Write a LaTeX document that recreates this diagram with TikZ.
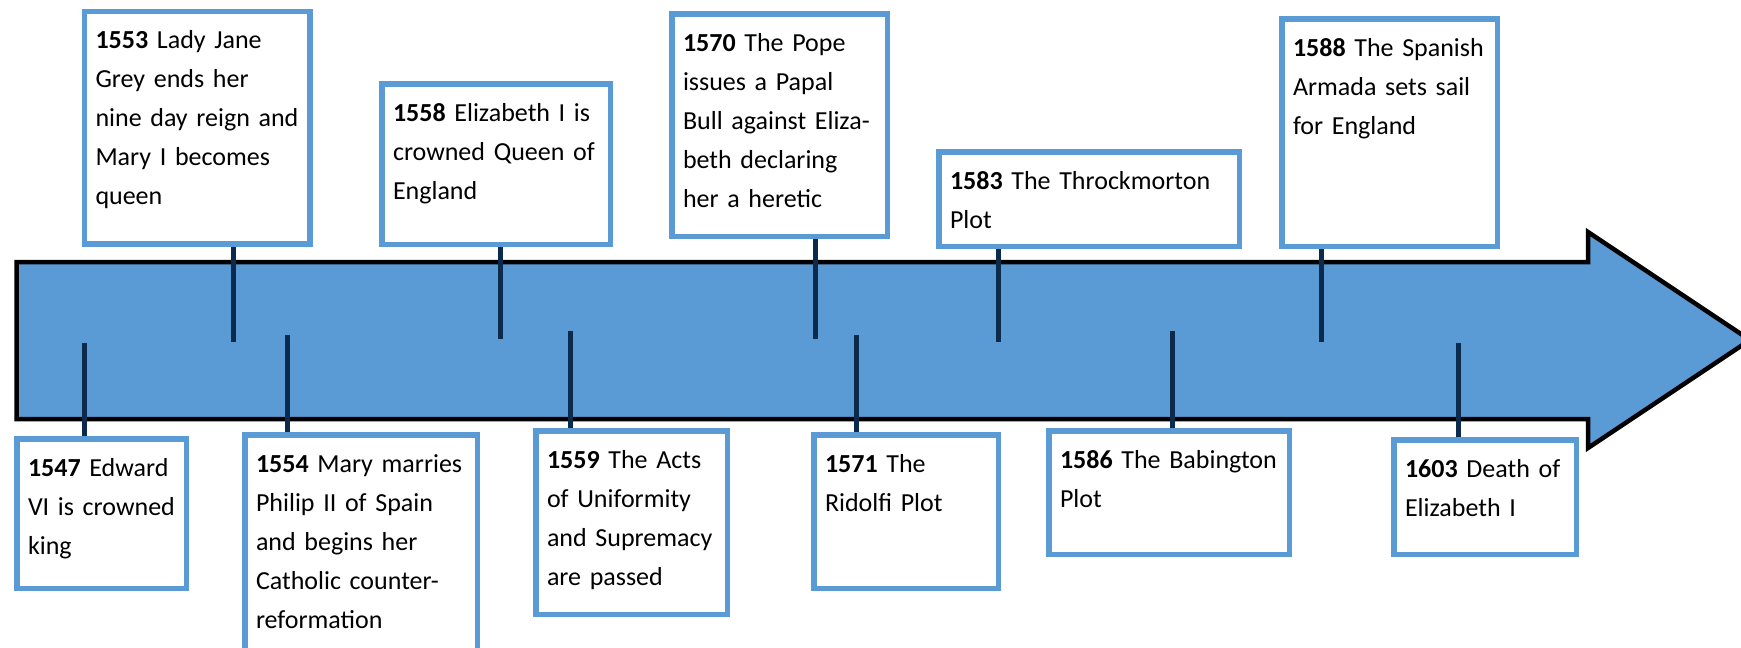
\documentclass[tikz,border=0pt]{standalone}
\usepackage{fontspec}
\setmainfont{Carlito}
\usepackage{tikz}
\usetikzlibrary{positioning}

\definecolor{boxblue}{HTML}{5B9BD5}
\definecolor{tickblue}{HTML}{0B2A4C}

\begin{document}
\begin{tikzpicture}[
  x=1pt, y=-1pt,
  evbox/.style={draw=boxblue,line width=5.5pt,fill=white,anchor=north west,align=left,
    inner xsep=11.25pt,inner ysep=11.25pt,text height=26pt,font=\fontsize{26}{39}\selectfont},
  tick/.style={draw=tickblue,line width=5pt}
]
\useasboundingbox (0,0) rectangle (1741,648);
% the big arrow
\draw[fill=boxblue,line width=4.5pt] (16.5,262) -- (1588,262) -- (1588,232) -- (1750,340)
  -- (1588,448) -- (1588,419) -- (16.5,419) -- cycle;
% events above the arrow
\node[evbox,text width=203pt,text depth=184pt] (e1553) at (81.5,8.5) {\textbf{1553} Lady Jane\\Grey ends her\\nine day reign and\\Mary I becomes\\queen};
\node[evbox,text width=206pt,text depth=112pt] (e1558) at (379,81) {\textbf{1558} Elizabeth I is\\crowned Queen of\\England};
\node[evbox,text width=193pt,text depth=174pt] (e1570) at (669,11) {\textbf{1570} The Pope\\issues a Papal\\Bull against Eliza-\\beth declaring\\her a heretic};
\node[evbox,text width=278pt,text depth=46pt] (e1583) at (936,149) {\textbf{1583} The Throckmorton\\Plot};
\node[evbox,text width=193pt,text depth=179pt] (e1588) at (1279,16) {\textbf{1588} The Spanish\\Armada sets sail\\for England};
% events below the arrow
\node[evbox,text width=147pt,text depth=101pt] (e1547) at (14,436) {\textbf{1547} Edward\\VI is crowned\\king};
\node[evbox,text width=210pt,text depth=194pt] (e1554) at (242,432) {\textbf{1554} Mary marries\\Philip II of Spain\\and begins her\\Catholic counter-\\reformation};
\node[evbox,text width=169pt,text depth=135pt] (e1559) at (533,428) {\textbf{1559} The Acts\\of Uniformity\\and Supremacy\\are passed};
\node[evbox,text width=162pt,text depth=105pt] (e1571) at (811,432) {\textbf{1571} The\\Ridolfi Plot};
\node[evbox,text width=218pt,text depth=75pt] (e1586) at (1046,428) {\textbf{1586} The Babington\\Plot};
\node[evbox,text width=160pt,text depth=66pt] (e1603) at (1391,437) {\textbf{1603} Death of\\Elizabeth I};
% tick ends on the arrow
\coordinate (t1553) at (233,342);
\coordinate (t1558) at (500.5,339);
\coordinate (t1570) at (815,339);
\coordinate (t1583) at (998,342);
\coordinate (t1588) at (1321,342);
\coordinate (t1547) at (84,343);
\coordinate (t1554) at (287,335);
\coordinate (t1559) at (570,331);
\coordinate (t1571) at (856,335);
\coordinate (t1586) at (1172,331);
\coordinate (t1603) at (1458,343);
\foreach \y in {1553,1558,1570,1583,1588}
  \draw[tick] (e\y.south -| t\y) -- (t\y);
\foreach \y in {1547,1554,1559,1571,1586,1603}
  \draw[tick] (e\y.north -| t\y) -- (t\y);
\end{tikzpicture}
\end{document}
